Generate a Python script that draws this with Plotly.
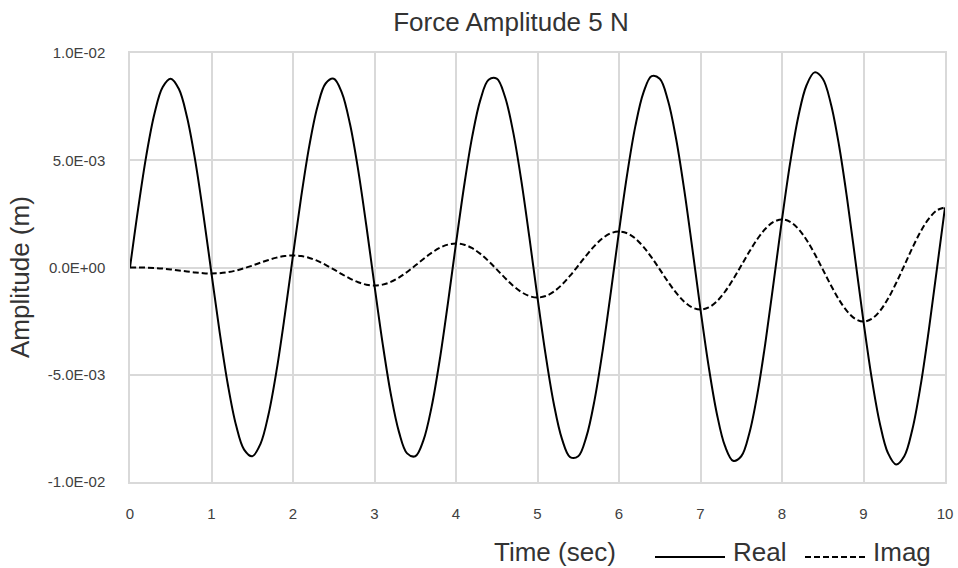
import plotly.graph_objects as go

# Time (sec)
time = [0.0, 0.1, 0.2, 0.3, 0.4, 0.5, 0.6, 0.7, 0.8, 0.9,
        1.0, 1.1, 1.2, 1.3, 1.4, 1.5, 1.6, 1.7, 1.8, 1.9,
        2.0, 2.1, 2.2, 2.3, 2.4, 2.5, 2.6, 2.7, 2.8, 2.9,
        3.0, 3.1, 3.2, 3.3, 3.4, 3.5, 3.6, 3.7, 3.8, 3.9,
        4.0, 4.1, 4.2, 4.3, 4.4, 4.5, 4.6, 4.7, 4.8, 4.9,
        5.0, 5.1, 5.2, 5.3, 5.4, 5.5, 5.6, 5.7, 5.8, 5.9,
        6.0, 6.1, 6.2, 6.3, 6.4, 6.5, 6.6, 6.7, 6.8, 6.9,
        7.0, 7.1, 7.2, 7.3, 7.4, 7.5, 7.6, 7.7, 7.8, 7.9,
        8.0, 8.1, 8.2, 8.3, 8.4, 8.5, 8.6, 8.7, 8.8, 8.9,
        9.0, 9.1, 9.2, 9.3, 9.4, 9.5, 9.6, 9.7, 9.8, 9.9,
        10.0]

# Real amplitude, in units of 1e-3 m
real_mm = [0.0, 2.746, 5.218, 7.168, 8.405, 8.8, 8.318, 7.004, 4.992, 2.479,
           -0.28, -3.012, -5.445, -7.333, -8.491, -8.8, -8.232, -6.839, -4.765, -2.213,
           0.56, 3.278, 5.671, 7.498, 8.578, 8.8, 8.145, 6.675, 4.539, 1.947,
           -0.84, -3.545, -5.898, -7.662, -8.664, -8.8, -8.059, -6.510, -4.312, -1.680,
           1.12, 3.811, 6.124, 7.827, 8.751, 8.8, 7.972, 6.345, 4.086, 1.414,
           -1.40, -4.077, -6.351, -7.991, -8.837, -8.8, -7.886, -6.181, -3.859, -1.148,
           1.68, 4.343, 6.577, 8.156, 8.924, 8.8, 7.799, 6.016, 3.633, 0.882,
           -1.96, -4.610, -6.804, -8.321, -9.010, -8.8, -7.713, -5.852, -3.406, -0.615,
           2.24, 4.876, 7.030, 8.485, 9.097, 8.8, 7.626, 5.687, 3.180, 0.349,
           -2.52, -5.142, -7.257, -8.650, -9.183, -8.8, -7.540, -5.522, -2.953, -0.083,
           2.80]

# Imaginary amplitude, in units of 1e-3 m
imag_mm = [0.0, -0.001, -0.007, -0.023, -0.050, -0.089, -0.137, -0.187, -0.234, -0.267,
           -0.28, -0.265, -0.220, -0.142, -0.036, 0.089, 0.223, 0.352, 0.460, 0.534,
           0.56, 0.532, 0.446, 0.307, 0.123, -0.089, -0.310, -0.516, -0.686, -0.800,
           -0.84, -0.798, -0.673, -0.471, -0.209, 0.089, 0.396, 0.681, 0.913, 1.066,
           1.12, 1.064, 0.899, 0.636, 0.296, -0.089, -0.483, -0.846, -1.140, -1.332,
           -1.40, -1.331, -1.126, -0.800, -0.382, 0.089, 0.569, 1.010, 1.366, 1.599,
           1.68, 1.597, 1.352, 0.965, 0.469, -0.089, -0.656, -1.175, -1.592, -1.865,
           -1.96, -1.863, -1.579, -1.130, -0.555, 0.089, 0.742, 1.339, 1.819, 2.131,
           2.24, 2.130, 1.805, 1.294, 0.642, -0.089, -0.829, -1.504, -2.045, -2.398,
           -2.52, -2.396, -2.032, -1.459, -0.728, 0.089, 0.915, 1.669, 2.272, 2.664,
           2.80]

x_ticks = [0, 1, 2, 3, 4, 5, 6, 7, 8, 9, 10]
y_ticks = [-0.01, -0.005, 0.0, 0.005, 0.01]
y_ticktext = ["-1.0E-02", "-5.0E-03", "0.0E+00", "5.0E-03", "1.0E-02"]

real = [v * 1e-3 for v in real_mm]
imag = [v * 1e-3 for v in imag_mm]

FONT = "Liberation Sans, Arial, sans-serif"
TXT = "#333333"
TICK = "#404040"
GRID = "#d9d9d9"

fig = go.Figure()
fig.add_trace(go.Scatter(x=time, y=real, mode="lines", name="Real",
                         line=dict(color="black", width=2, shape="spline", smoothing=1)))
fig.add_trace(go.Scatter(x=time, y=imag, mode="lines", name="Imag",
                         line=dict(color="black", width=2, dash="6px,3px", shape="spline", smoothing=1)))

fig.update_layout(
    width=958, height=568,
    margin=dict(l=130, r=13, t=53, b=86, autoexpand=False),
    paper_bgcolor="white", plot_bgcolor="white",
    showlegend=False,
    font=dict(family=FONT, color=TICK, size=15),
    title=dict(text="Force Amplitude 5 N", x=511 / 958, xref="container", xanchor="center",
               y=1 - 22 / 568, yref="container", yanchor="middle",
               font=dict(family=FONT, size=26, color=TXT)),
    xaxis=dict(range=[0, 10], tickvals=x_ticks, showgrid=True, gridcolor=GRID, gridwidth=1.5,
               showline=True, mirror=True, linecolor=GRID, linewidth=1.5, zeroline=False,
               automargin=False,
               ticks="", ticklabelstandoff=17, tickfont=dict(size=15, color=TICK)),
    yaxis=dict(range=[-0.01, 0.01], tickvals=y_ticks, ticktext=y_ticktext, showgrid=True,
               gridcolor=GRID, gridwidth=1.5, showline=True, mirror=True, linecolor=GRID,
               linewidth=1.5, zeroline=False, ticks="", ticklabelstandoff=20,
               automargin=False,
               tickfont=dict(size=15, color=TICK)),
    annotations=[
        dict(text="Amplitude (m)", x=(20 - 130) / 815, y=(482 - 277) / 429, xref="paper", yref="paper",
             textangle=-90, showarrow=False, xanchor="center", yanchor="middle",
             font=dict(family=FONT, size=26, color=TXT)),
        dict(text="Time (sec)", x=(492 - 130) / 815, y=(482 - 552) / 429, xref="paper", yref="paper",
             showarrow=False, xanchor="left", yanchor="middle",
             font=dict(family=FONT, size=26, color=TXT)),
        dict(text="Real", x=(731 - 130) / 815, y=(482 - 552) / 429, xref="paper", yref="paper",
             showarrow=False, xanchor="left", yanchor="middle",
             font=dict(family=FONT, size=26, color=TXT)),
        dict(text="Imag", x=(871 - 130) / 815, y=(482 - 552) / 429, xref="paper", yref="paper",
             showarrow=False, xanchor="left", yanchor="middle",
             font=dict(family=FONT, size=26, color=TXT)),
    ],
    shapes=[
        dict(type="line", xref="paper", yref="paper",
             x0=(655 - 130) / 815, x1=(725 - 130) / 815,
             y0=(482 - 557) / 429, y1=(482 - 557) / 429,
             line=dict(color="black", width=2)),
        dict(type="line", xref="paper", yref="paper",
             x0=(805 - 130) / 815, x1=(866 - 130) / 815,
             y0=(482 - 557) / 429, y1=(482 - 557) / 429,
             line=dict(color="black", width=2, dash="6px,3px")),
    ],
)

# remove the browser's default 8px body margin so the figure sits at the page origin
fig.write_html("out.html", config={"displayModeBar": False},
               post_script="document.body.style.margin='0';document.body.style.overflow='hidden';")
